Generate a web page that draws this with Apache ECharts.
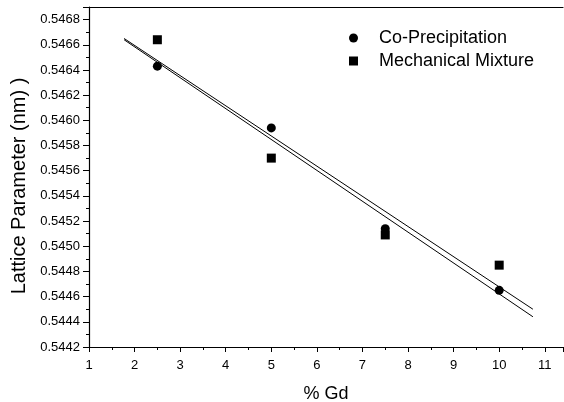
<!DOCTYPE html>
<html>
<head>
    <meta charset="utf-8">
    <title>Lattice Parameter vs % Gd</title>
    <script src="https://cdn.jsdelivr.net/npm/echarts@6/dist/echarts.min.js"></script>
    <style>
        html, body { margin: 0; padding: 0; background: #fff; }
        #main { width: 564px; height: 402px; }
    </style>
</head>
<body>
<div id="main"></div>
<script type="text/javascript">
    // values
    var gd = [2.5, 5, 7.5, 10];
    var coPrecip = [0.54643, 0.54594, 0.54514, 0.54465];
    var mechMix = [0.54664, 0.54570, 0.54509, 0.54485];
    // fitted lines, end points as drawn
    var fitCoPrecip = [[1.77, 0.54664], [10.74, 0.54444]];
    var fitMechMix = [[1.77, 0.54665], [10.74, 0.54450]];

    var font = '"Liberation Sans", Arial, sans-serif';

    function pairs(xs, ys) {
        var out = [];
        for (var i = 0; i < xs.length; i++) {
            out.push([xs[i], ys[i]]);
        }
        return out;
    }

    var myChart = echarts.init(document.getElementById('main'));
    var option = {
        backgroundColor: '#fff',
        animation: false,
        grid: {left: 89, right: 1, top: 7, bottom: 55, outerBoundsMode: 'none', containLabel: false},
        legend: {
            orient: 'vertical',
            left: 344,
            top: 24,
            itemWidth: 9,
            itemHeight: 9,
            itemGap: 5,
            data: [
                {name: 'Co-Precipitation', icon: 'circle'},
                {name: 'Mechanical Mixture', icon: 'rect'}
            ],
            textStyle: {fontFamily: font, fontSize: 18, color: '#000', padding: [0, 0, 0, 16]}
        },
        xAxis: [{
            type: 'value',
            min: 1,
            max: 11.4,
            interval: 1,
            name: '% Gd',
            nameLocation: 'middle',
            nameGap: 38,
            nameTextStyle: {fontFamily: font, fontSize: 18, color: '#000'},
            axisLine: {show: true, onZero: false, lineStyle: {color: '#000', width: 1.2}},
            axisTick: {show: true, length: 5, lineStyle: {color: '#000'}},
            minorTick: {show: true, splitNumber: 2, length: 3, lineStyle: {color: '#000'}},
            axisLabel: {fontFamily: font, fontSize: 13, color: '#000', margin: 12, showMaxLabel: false},
            splitLine: {show: false}
        }, {
            type: 'value',
            position: 'top',
            min: 1,
            max: 11.4,
            axisLine: {show: true, onZero: false, lineStyle: {color: '#000', width: 1.2}},
            axisTick: {show: false},
            axisLabel: {show: false},
            splitLine: {show: false}
        }],
        yAxis: {
            type: 'value',
            min: 0.5442,
            max: 0.5469,
            interval: 0.0002,
            axisLine: {show: true, onZero: false, lineStyle: {color: '#000', width: 1.2}},
            axisTick: {show: true, length: 6, lineStyle: {color: '#000'}},
            minorTick: {show: true, splitNumber: 2, length: 3, lineStyle: {color: '#000'}},
            axisLabel: {
                fontFamily: font, fontSize: 13, color: '#000', margin: 9, showMaxLabel: false,
                formatter: function (v) { return v.toFixed(4); }
            },
            splitLine: {show: false}
        },
        graphic: [{
            type: 'text',
            x: 19,
            y: 186,
            rotation: Math.PI / 2,
            style: {
                text: 'Lattice Parameter (nm) )',
                fontFamily: font,
                fontSize: 20,
                fill: '#000',
                align: 'center',
                verticalAlign: 'middle'
            }
        }],
        series: [
            {
                name: 'Co-Precipitation',
                type: 'scatter',
                symbol: 'circle',
                symbolSize: 9,
                itemStyle: {color: '#000', opacity: 1},
                data: pairs(gd, coPrecip),
                z: 3
            },
            {
                name: 'Mechanical Mixture',
                type: 'scatter',
                symbol: 'rect',
                symbolSize: 9,
                itemStyle: {color: '#000', opacity: 1},
                data: pairs(gd, mechMix),
                z: 3
            },
            {
                name: 'fit1',
                type: 'line',
                showSymbol: false,
                lineStyle: {color: '#000', width: 1},
                data: fitCoPrecip
            },
            {
                name: 'fit2',
                type: 'line',
                showSymbol: false,
                lineStyle: {color: '#000', width: 1},
                data: fitMechMix
            }
        ]
    };
    option && myChart.setOption(option);
</script>
</body>
</html>
